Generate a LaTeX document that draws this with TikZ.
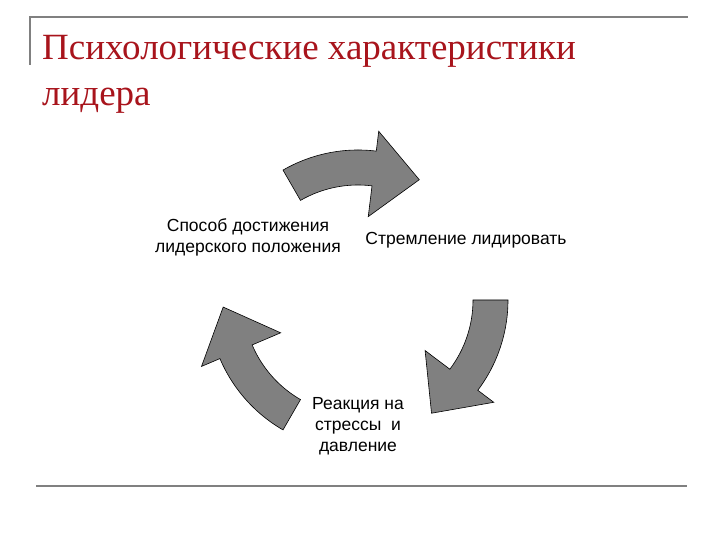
\documentclass[tikz,border=0pt]{standalone}
\usepackage{fontspec}
\setmainfont{Liberation Serif}
\newfontfamily\lsans{Liberation Sans}
\definecolor{ttl}{HTML}{A8141C}
\definecolor{arr}{HTML}{808080}
\tikzset{
  cyc/.style={fill=arr,draw=black,line width=0.6pt},
  lbl/.style={font=\lsans\fontsize{17.5}{21}\selectfont,align=center,inner sep=0pt},
  rule/.style={draw=gray,line width=1.5pt}
}
\newcommand{\cycarrow}[1]{%
  \pgfmathsetmacro{\aa}{#1}\pgfmathsetmacro{\bb}{#1-37}\pgfmathsetmacro{\tt}{#1-57}%
  \path[cyc] (\aa:150pt) arc[start angle=\aa,end angle=\bb,radius=150pt] -- (\bb:170pt) -- (\tt:135pt) -- (\bb:84pt) -- (\bb:115pt) arc[start angle=\bb,end angle=\aa,radius=115pt] -- cycle;}
\begin{document}
\begin{tikzpicture}[x=1pt,y=1pt]
\useasboundingbox (0,0) rectangle (720,540);
\coordinate (tl) at (30,523);
\coordinate (tr) at (688,523);
\coordinate (lb) at (30,475);
\coordinate (bl) at (36,54);
\coordinate (br) at (687,54);
\draw[rule] (lb) -- (tl) -- (tr);
\draw[rule] (bl) -- (br);
\node[anchor=base west,text=ttl,font=\fontsize{37}{44}\selectfont,inner sep=0pt] (t1) at (42,480) {Психологические характеристики};
\node[anchor=base west,text=ttl,font=\fontsize{37}{44}\selectfont,inner sep=0pt] (t2) at (42,434) {лидера};
\begin{scope}[shift={(358,240)}]
\cycarrow{120}
\cycarrow{0}
\cycarrow{240}
\end{scope}
\node[lbl] (a) at (248,303) {Способ достижения\\лидерского положения};
\node[lbl] (b) at (466,300) {Стремление лидировать};
\node[lbl] (c) at (358,114) {Реакция на\\стрессы\ \ и\\давление};
\end{tikzpicture}
\end{document}
